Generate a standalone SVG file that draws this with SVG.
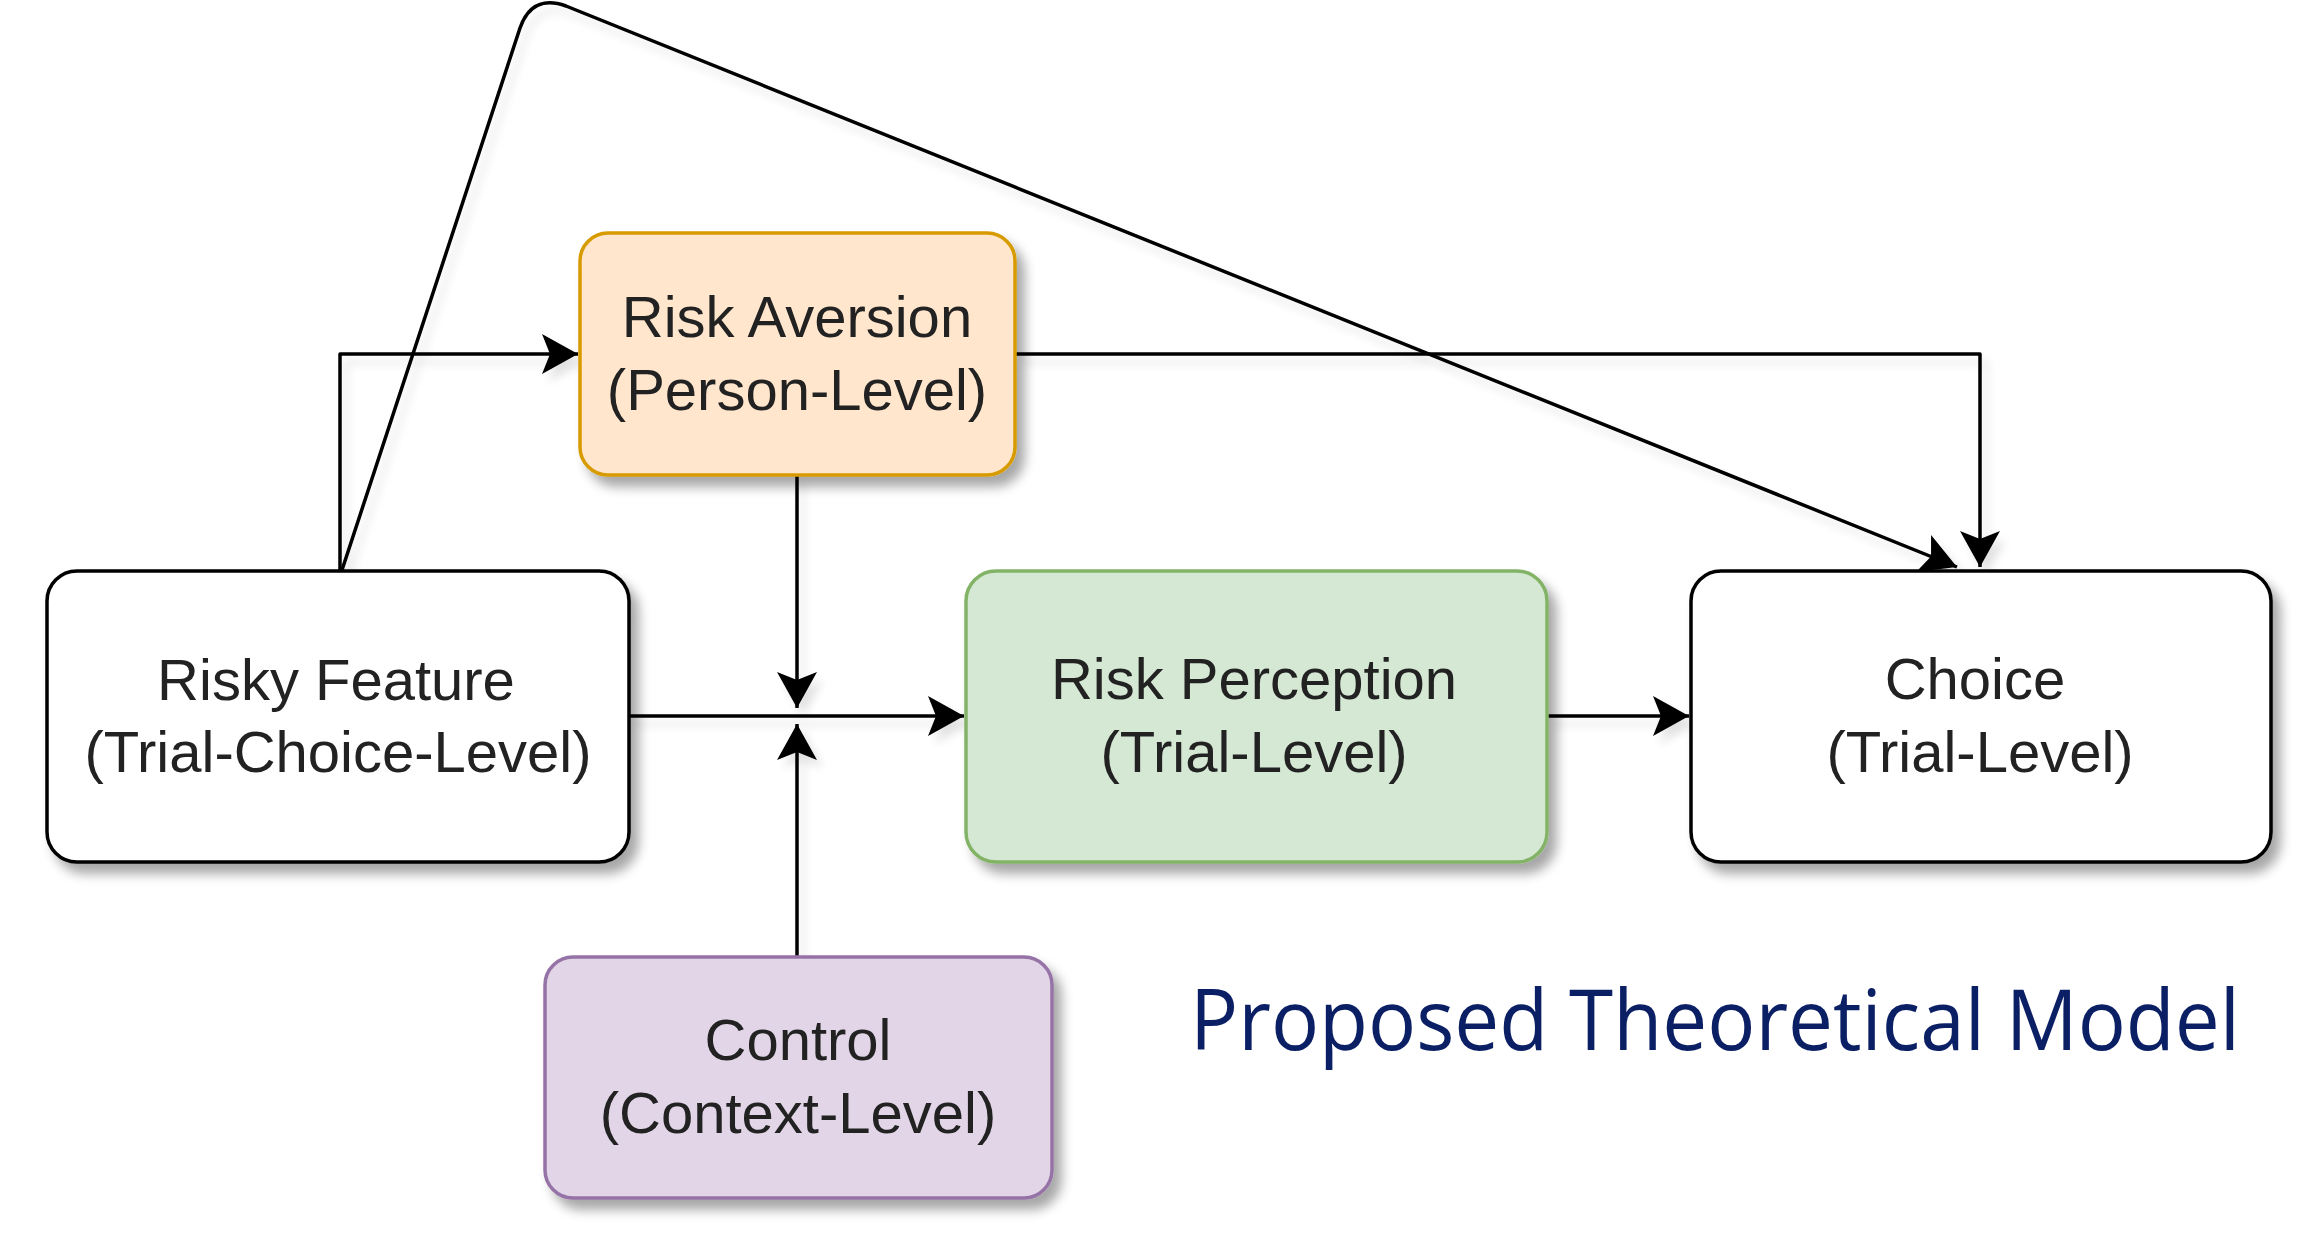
<svg xmlns="http://www.w3.org/2000/svg" width="2305" height="1245" viewBox="0 0 2305 1245">
  <style>
    .box { stroke-width: 3.5; }
    .lbl { font-family: "Liberation Sans", Arial, sans-serif; font-size: 58px; fill: #222222; text-anchor: middle; }
    .edge { fill: none; stroke: #000000; stroke-width: 3.5; stroke-linejoin: round; }
    .title { font-family: "Open Sans", "Noto Sans", sans-serif; font-size: 84px; fill: #0b1f65; }
  </style>
  <defs>
    <filter id="shadow" x="-20%" y="-20%" width="150%" height="160%">
      <feGaussianBlur in="SourceAlpha" stdDeviation="6"/>
      <feOffset dx="8" dy="10" result="b"/>
      <feComponentTransfer><feFuncA type="linear" slope="0.35"/></feComponentTransfer>
      <feMerge><feMergeNode/><feMergeNode in="SourceGraphic"/></feMerge>
    </filter>
    <filter id="eshadow" x="-10%" y="-10%" width="130%" height="130%">
      <feGaussianBlur in="SourceAlpha" stdDeviation="5"/>
      <feOffset dx="6" dy="8" result="b"/>
      <feComponentTransfer><feFuncA type="linear" slope="0.12"/></feComponentTransfer>
      <feMerge><feMergeNode/><feMergeNode in="SourceGraphic"/></feMerge>
    </filter>
    <marker id="arrow" markerUnits="userSpaceOnUse" viewBox="0 0 40 42" markerWidth="40" markerHeight="42" refX="38" refY="21" orient="auto">
      <path d="M2,1 L38,21 L2,41 L10,21 Z" fill="#000000"/>
    </marker>
  </defs>

  <g id="connectors" filter="url(#eshadow)">
    <path class="edge" d="M340,570 V354 H578" marker-end="url(#arrow)"/>
    <path class="edge" d="M342,570 L520,28 Q532,-6 566,6 L1957,567" marker-end="url(#arrow)"/>
    <path class="edge" d="M1015,354 H1980 V567" marker-end="url(#arrow)"/>
    <path class="edge" d="M629,716 H964" marker-end="url(#arrow)"/>
    <path class="edge" d="M797,475 V708" marker-end="url(#arrow)"/>
    <path class="edge" d="M797,957 V724" marker-end="url(#arrow)"/>
    <path class="edge" d="M1547,716 H1689" marker-end="url(#arrow)"/>
  </g>

  <g id="risky-feature" filter="url(#shadow)">
    <rect class="box" x="47" y="571" width="582" height="291" rx="30" ry="30" fill="#ffffff" stroke="#000000"/>
    <text class="lbl" x="336" y="700">Risky Feature</text>
    <text class="lbl" x="338" y="772">(Trial-Choice-Level)</text>
  </g>

  <g id="risk-aversion" filter="url(#shadow)">
    <rect class="box" x="580" y="233" width="435" height="242" rx="28" ry="28" fill="#ffe6cc" stroke="#d79b00"/>
    <text class="lbl" x="797" y="337">Risk Aversion</text>
    <text class="lbl" x="797" y="410">(Person-Level)</text>
  </g>

  <g id="risk-perception" filter="url(#shadow)">
    <rect class="box" x="966" y="571" width="581" height="291" rx="30" ry="30" fill="#d5e8d4" stroke="#82b366"/>
    <text class="lbl" x="1254" y="699">Risk Perception</text>
    <text class="lbl" x="1254" y="772">(Trial-Level)</text>
  </g>

  <g id="choice" filter="url(#shadow)">
    <rect class="box" x="1691" y="571" width="580" height="291" rx="30" ry="30" fill="#ffffff" stroke="#000000"/>
    <text class="lbl" x="1975" y="699">Choice</text>
    <text class="lbl" x="1980" y="772">(Trial-Level)</text>
  </g>

  <g id="control" filter="url(#shadow)">
    <rect class="box" x="545" y="957" width="507" height="241" rx="28" ry="28" fill="#e1d5e7" stroke="#9673a6"/>
    <text class="lbl" x="798" y="1060">Control</text>
    <text class="lbl" x="798" y="1133">(Context-Level)</text>
  </g>

  <g id="title">
    <text class="title" x="1190" y="1050" textLength="1050" lengthAdjust="spacingAndGlyphs">Proposed Theoretical Model</text>
  </g>
</svg>
